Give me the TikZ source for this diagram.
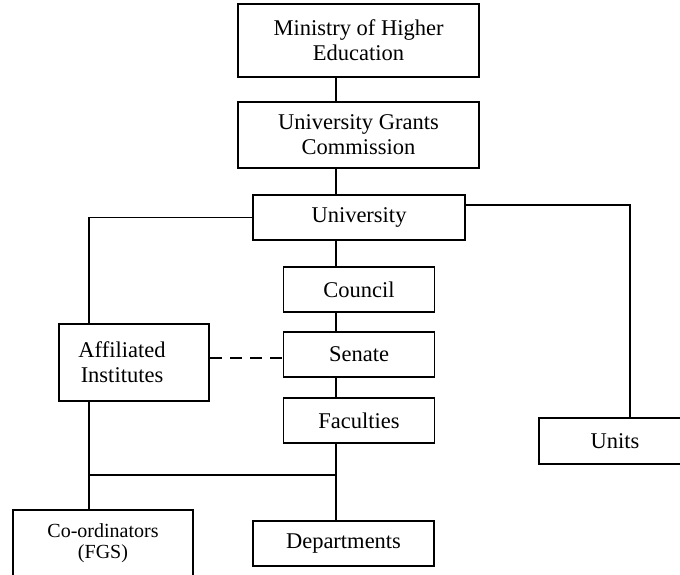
\documentclass[tikz,border=0pt]{standalone}
\usepackage{fontspec}
\setmainfont{Liberation Serif}
\usepackage{tikz}
\tikzstyle{box} = [draw=black, line width=1.8pt, rectangle, align=center, inner sep=0pt, font={\fontsize{22.5}{25}\selectfont}]
\tikzstyle{small} = [font={\fontsize{20}{21}\selectfont}]
\tikzstyle{link} = [draw=black, line width=1.8pt]
\tikzstyle{weak} = [link, dash pattern=on 12pt off 8pt]

\begin{document}
\begin{tikzpicture}[x=1pt,y=-1pt]
    \clip (0,0) rectangle (680,575);
    \node[box,minimum width=241pt,minimum height=73pt](moe) at (358.5,40.5){Ministry of Higher\\Education};
    \node[box,minimum width=241pt,minimum height=66pt](ugc) at (358.5,135){University Grants\\Commission};
    \node[box,minimum width=212pt,minimum height=45pt](uni) at (359,217.5){University};
    \node[box,minimum width=151pt,minimum height=45pt](council) at (359,289.5){Council};
    \node[box,minimum width=151pt,minimum height=45pt](senate) at (359,354.5){Senate};
    \node[box,minimum width=151pt,minimum height=45pt](fac) at (359,420.5){Faculties};
    \node[box,minimum width=150pt,minimum height=77pt](aff) at (134,362.5){Affiliated\kern24pt\\Institutes\kern24pt};
    \node[box,minimum width=152pt,minimum height=46pt](units) at (615,441){Units};
    \node[box,small,minimum width=180pt,minimum height=66pt](coord) at (103,543){Co-ordinators\\(FGS)};
    \node[box,minimum width=181pt,minimum height=45pt](dept) at (343.5,543.5){Departments};
    % where the lines run
    \coordinate (spine) at (336,0);
    \coordinate (leftx) at (89,0);
    \coordinate (rightx) at (630,0);
    \coordinate (rightarm) at (0,205);
    \coordinate (dashy) at (0,358);
    \coordinate (join) at (89,475);
    \draw[link](moe.south -| spine)--(ugc.north -| spine);
    \draw[link](ugc.south -| spine)--(uni.north -| spine);
    \draw[link](uni.south -| spine)--(council.north -| spine);
    \draw[link](council.south -| spine)--(senate.north -| spine);
    \draw[link](senate.south -| spine)--(fac.north -| spine);
    \draw[link](fac.south -| spine)--(dept.north -| spine);
    \draw[link](uni.west) -| (aff.north -| leftx);
    \draw[link](uni.east |- rightarm) -| (units.north -| rightx);
    \draw[weak](aff.east |- dashy)--(senate.west |- dashy);
    \draw[link](aff.south -| leftx)--(coord.north -| leftx);
    \draw[link](join)--(join -| spine);
  \end{tikzpicture}
\end{document}
